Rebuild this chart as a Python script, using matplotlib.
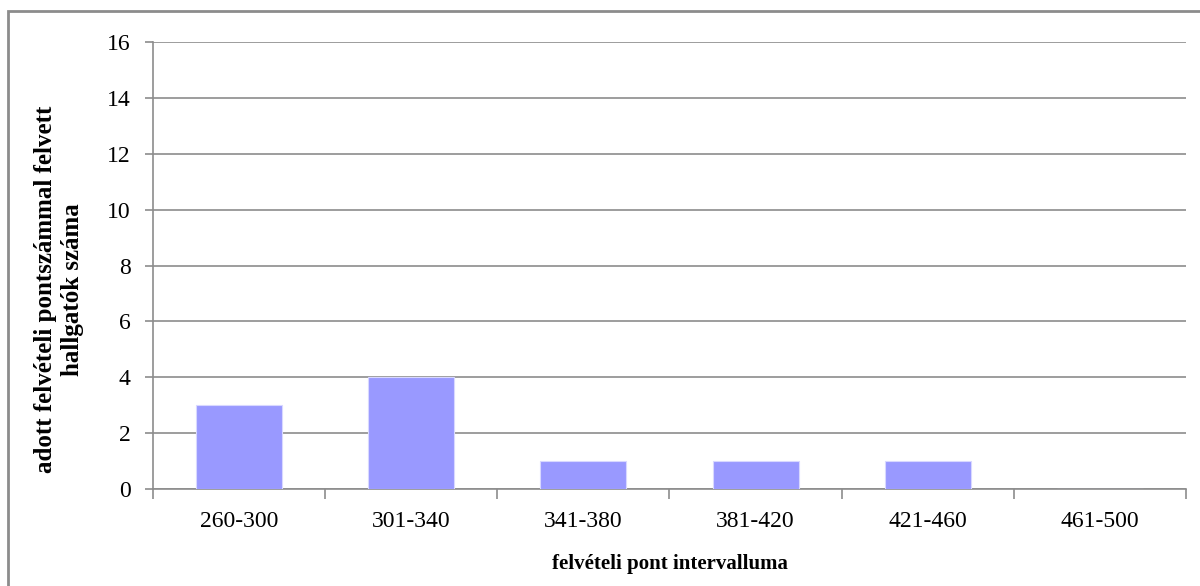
import matplotlib
matplotlib.use("Agg")
import matplotlib.pyplot as plt
from matplotlib.patches import Rectangle

categories = ["260-300", "301-340", "341-380", "381-420", "421-460", "461-500"]
counts = [3, 4, 1, 1, 1, 0]
y_ticks = [0, 2, 4, 6, 8, 10, 12, 14, 16]

plt.rcParams["font.family"] = ["Liberation Serif", "DejaVu Serif"]

fig = plt.figure(figsize=(12, 5.86), dpi=100)
ax = fig.add_axes([0.1275, 0.1655, 0.8608, 0.7628])

x = list(range(len(categories)))
ax.bar(x, counts, width=0.5, color="#9999ff", edgecolor="#d8d8ff", linewidth=0.8, zorder=3)

ax.set_xlim(-0.5, len(categories) - 0.5)
ax.set_ylim(0, 16)
ax.set_yticks(y_ticks)
ax.set_yticklabels([str(t) for t in y_ticks], fontsize=17)
ax.yaxis.grid(True, color="#8c8c8c", linewidth=1.2, zorder=0)

# category labels between the boundary ticks
ax.set_xticks([i - 0.5 for i in range(len(categories) + 1)])
ax.set_xticklabels([])
ax.set_xticks(x, minor=True)
ax.set_xticklabels(categories, minor=True, fontsize=17)
ax.tick_params(axis="x", which="minor", length=0, pad=16)
ax.tick_params(axis="x", which="major", length=7, color="#8c8c8c", width=1.2)
ax.tick_params(axis="y", length=6, color="#8c8c8c", width=1.2, pad=10)

for side in ["top", "right"]:
    ax.spines[side].set_visible(False)
for side in ["left", "bottom"]:
    ax.spines[side].set_color("#8c8c8c")
    ax.spines[side].set_linewidth(1.2)

# axis titles
fig.text(0.558, 0.038, "felvételi pont intervalluma", fontsize=15,
         fontweight="bold", ha="center", va="center")
fig.text(59 / 1200, 0.506, "adott felvételi pontszámmal felvett\nhallgatók száma",
         fontsize=18, fontweight="bold", rotation=90, ha="center", va="center",
         multialignment="center", linespacing=1.2)

# outer chart frame
fig.patches.append(Rectangle((8 / 1200, -0.1), 1.2, 1 - 11 / 586 + 0.1,
                             transform=fig.transFigure, fill=False,
                             edgecolor="#8c8c8c", linewidth=2))

fig.savefig("out.png", dpi=100)
